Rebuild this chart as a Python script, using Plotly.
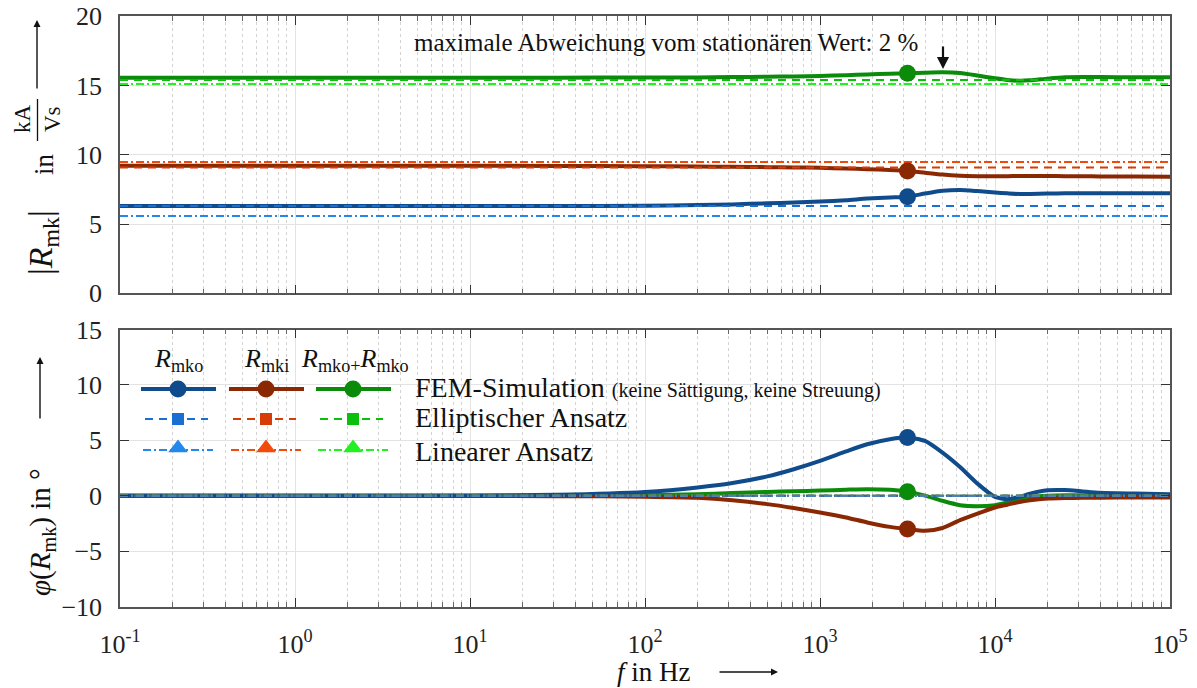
import plotly.graph_objects as go

# ---------------- data ----------------
freq = [0.1, 1, 10, 31.6, 100, 200, 316, 500, 708, 1000, 1410, 1860, 2510, 3162,
        3980, 5010, 6310, 7940, 10000, 11750, 13800, 15850, 19950, 25120, 31620,
        39810, 63100, 100000]

mag_mko = [6.30, 6.30, 6.30, 6.30, 6.32, 6.37, 6.42, 6.50, 6.55, 6.62, 6.72, 6.84, 6.92, 6.97,
           7.20, 7.40, 7.46, 7.38, 7.28, 7.22, 7.17, 7.17, 7.20, 7.22, 7.22, 7.22, 7.22, 7.22]
mag_mki = [9.21, 9.21, 9.21, 9.20, 9.18, 9.15, 9.13, 9.11, 9.09, 9.06, 9.01, 8.96, 8.90, 8.83,
           8.70, 8.57, 8.49, 8.46, 8.45, 8.46, 8.47, 8.47, 8.47, 8.46, 8.45, 8.44, 8.43, 8.42]
mag_sum = [15.57, 15.57, 15.57, 15.57, 15.58, 15.59, 15.61, 15.64, 15.66, 15.69, 15.75, 15.80, 15.85, 15.88,
           15.93, 15.96, 15.90, 15.72, 15.52, 15.40, 15.35, 15.38, 15.50, 15.60, 15.62, 15.61, 15.60, 15.60]

ph_mko = [0, 0, 0.03, 0.10, 0.35, 0.75, 1.15, 1.75, 2.40, 3.15, 4.00, 4.65, 5.10, 5.27,
          4.95, 3.90, 2.60, 1.10, -0.10, -0.30, -0.10, 0.20, 0.50, 0.52, 0.40, 0.28, 0.20, 0.15]
ph_mki = [0, 0, -0.01, -0.03, -0.08, -0.18, -0.40, -0.75, -1.10, -1.50, -1.95, -2.40, -2.80, -3.00,
          -3.15, -2.90, -2.20, -1.60, -1.05, -0.80, -0.55, -0.40, -0.25, -0.20, -0.18, -0.17, -0.15, -0.15]
ph_sum = [0, 0, 0.01, 0.02, 0.06, 0.15, 0.25, 0.35, 0.42, 0.47, 0.55, 0.60, 0.55, 0.36,
          0.02, -0.45, -0.85, -0.95, -0.85, -0.60, -0.35, -0.15, 0.00, 0.05, 0.05, 0.05, 0.05, 0.05]

f_const = [0.1, 100000]
ell_mko = [6.30, 6.30]
ell_mki = [9.08, 9.08]
ell_sum = [15.40, 15.40]
lin_mko = [5.58, 5.58]
lin_mki = [9.48, 9.48]
lin_sum = [15.11, 15.11]
ph_const = [0, 0]

marker_idx = 13  # f = 3162 Hz

x_tickvals = [0.1, 1, 10, 100, 1000, 10000, 100000]
x_ticktext = ["10<sup>-1</sup>", "10<sup>0</sup>", "10<sup>1</sup>", "10<sup>2</sup>",
              "10<sup>3</sup>", "10<sup>4</sup>", "10<sup>5</sup>"]

# ---------------- styles ----------------
FONT = "Liberation Serif, Times New Roman, serif"
C = dict(
    mko=("#104C8C", "#1A70D2", "#2388EC"),
    mki=("#8A2804", "#D83C06", "#F24A0A"),
    sum=("#0A8C0A", "#0AC00A", "#22F022"),
)
W, H = 1197, 688
def px(x): return x / W
def py(y): return 1 - y / H

fig = go.Figure()

def add_group(xa, ya, fem, ell, lin):
    order = ["sum", "mki", "mko"]
    for k in order:
        fig.add_trace(go.Scatter(x=freq, y=fem[k], mode="lines", line=dict(color=C[k][0], width=4, shape="spline", smoothing=0.6),
                                 xaxis=xa, yaxis=ya, showlegend=False, hoverinfo="skip"))
    for k in order:
        fig.add_trace(go.Scatter(x=f_const, y=ell[k], mode="lines", line=dict(color=C[k][1], width=2, dash="8px,6px"),
                                 xaxis=xa, yaxis=ya, showlegend=False, hoverinfo="skip"))
    for k in order:
        fig.add_trace(go.Scatter(x=f_const, y=lin[k], mode="lines", line=dict(color=C[k][2], width=2, dash="8px,3px,2px,3px"),
                                 xaxis=xa, yaxis=ya, showlegend=False, hoverinfo="skip"))
    for k in order:
        fig.add_trace(go.Scatter(x=[freq[marker_idx]], y=[fem[k][marker_idx]], mode="markers",
                                 marker=dict(color=C[k][0], size=17, symbol="circle"),
                                 xaxis=xa, yaxis=ya, showlegend=False, hoverinfo="skip"))

add_group("x", "y",
          dict(mko=mag_mko, mki=mag_mki, sum=mag_sum),
          dict(mko=ell_mko, mki=ell_mki, sum=ell_sum),
          dict(mko=lin_mko, mki=lin_mki, sum=lin_sum))
add_group("x2", "y2",
          dict(mko=ph_mko, mki=ph_mki, sum=ph_sum),
          dict(mko=ph_const, mki=ph_const, sum=ph_const),
          dict(mko=ph_const, mki=ph_const, sum=ph_const))

# ---------------- legend (drawn on overlay pixel axis) ----------------
leg_cols = [178, 266, 353]
leg_rows = [389, 419, 450]
leg_keys = ["mko", "mki", "sum"]
for ci, k in enumerate(leg_keys):
    cx = leg_cols[ci]
    fig.add_trace(go.Scatter(x=[cx - 37, cx + 38], y=[leg_rows[0]] * 2, mode="lines",
                             line=dict(color=C[k][0], width=4), xaxis="x3", yaxis="y3", showlegend=False, hoverinfo="skip"))
    fig.add_trace(go.Scatter(x=[cx], y=[leg_rows[0]], mode="markers", marker=dict(color=C[k][0], size=17),
                             xaxis="x3", yaxis="y3", showlegend=False, hoverinfo="skip"))
    fig.add_trace(go.Scatter(x=[cx - 33, cx + 30], y=[leg_rows[1]] * 2, mode="lines",
                             line=dict(color=C[k][1], width=2, dash="8px,6px"), xaxis="x3", yaxis="y3", showlegend=False, hoverinfo="skip"))
    fig.add_trace(go.Scatter(x=[cx], y=[leg_rows[1]], mode="markers", marker=dict(color=C[k][1], size=12, symbol="square"),
                             xaxis="x3", yaxis="y3", showlegend=False, hoverinfo="skip"))
    fig.add_trace(go.Scatter(x=[cx - 35, cx + 35], y=[leg_rows[2]] * 2, mode="lines",
                             line=dict(color=C[k][2], width=2, dash="8px,3px,2px,3px"), xaxis="x3", yaxis="y3", showlegend=False, hoverinfo="skip"))
    fig.add_trace(go.Scatter(x=[cx], y=[leg_rows[2] - 2], mode="markers", marker=dict(color=C[k][2], size=17, symbol="triangle-up"),
                             xaxis="x3", yaxis="y3", showlegend=False, hoverinfo="skip"))

# ---------------- axes ----------------
minor_vals = [m * 10 ** e for e in range(-1, 5) for m in range(2, 10)]
AX_COL = "#555555"
def xaxis_cfg(domain_y_anchor, labels):
    return dict(type="log", range=[-1, 5], domain=[px(120), px(1170)], anchor=domain_y_anchor,
                tickmode="array", tickvals=x_tickvals, ticktext=x_ticktext, showticklabels=labels,
                ticks="inside", ticklen=9, tickwidth=1.2, tickcolor="#333333",
                showline=True, linecolor=AX_COL, linewidth=1.5, mirror="allticks",
                showgrid=True, gridcolor="#E3E3E3", gridwidth=1.2,
                minor=dict(tickmode="array", tickvals=minor_vals, ticks="inside", ticklen=5, tickcolor="#666666",
                           showgrid=True, gridcolor="#D2D2D2", griddash="dot", gridwidth=1),
                tickfont=dict(family=FONT, size=26, color="#222222"), ticklabelstandoff=13,
                zeroline=False, automargin=False)

def yaxis_cfg(domain, rng, dtick, anchor):
    return dict(range=rng, domain=domain, anchor=anchor, dtick=dtick, tick0=0,
                ticks="inside", ticklen=9, tickwidth=1.2, tickcolor="#333333",
                showline=True, linecolor=AX_COL, linewidth=1.5, mirror="allticks",
                showgrid=True, gridcolor="#E3E3E3", gridwidth=1.2, zeroline=False,
                tickfont=dict(family=FONT, size=26, color="#222222"), ticklabelstandoff=11,
                automargin=False)

fig.update_layout(
    width=W, height=H, margin=dict(l=0, r=0, t=0, b=0),
    paper_bgcolor="white", plot_bgcolor="rgba(0,0,0,0)",
    font=dict(family=FONT, color="#222222"),
    xaxis=xaxis_cfg("y", False),
    yaxis=yaxis_cfg([py(293.3), py(16.3)], [0, 20], 5, "x"),
    xaxis2=xaxis_cfg("y2", True),
    yaxis2=yaxis_cfg([py(606.7), py(329.5)], [-10, 15], 5, "x2"),
    xaxis3=dict(domain=[0, 1], range=[0, W], visible=False, anchor="y3", fixedrange=True),
    yaxis3=dict(domain=[0, 1], range=[H, 0], visible=False, anchor="x3", fixedrange=True),
    showlegend=False,
)

ann = []
def text(x, y, t, size=25, angle=0, xanchor="center"):
    ann.append(dict(x=px(x), y=py(y), xref="paper", yref="paper", text=t, showarrow=False,
                    textangle=angle, xanchor=xanchor, yanchor="middle",
                    font=dict(family=FONT, size=size, color="#111111")))
def arrow(xh, yh, ax, ay, width=1.4, size=1.0):
    ann.append(dict(x=px(xh), y=py(yh), xref="paper", yref="paper", text="", showarrow=True,
                    ax=ax, ay=ay, arrowhead=2, arrowsize=size, arrowwidth=width, arrowcolor="#111111"))

# legend headers and labels
text(leg_cols[0], 360, "<i>R</i><sub>mko</sub>", 26)
text(leg_cols[1], 360, "<i>R</i><sub>mki</sub>", 26)
text(leg_cols[2] + 2, 360, "<i>R</i><sub>mko+</sub><i>R</i><sub>mko</sub>", 26)
text(413, 387, "FEM-Simulation <span style='font-size:20px'>(keine Sättigung, keine Streuung)</span>", 28, xanchor="left")
text(413, 417, "Elliptischer Ansatz", 28, xanchor="left")
text(413, 451, "Linearer Ansatz", 28, xanchor="left")

# annotation top
text(412, 42, "maximale Abweichung vom stationären Wert: 2 %", 25, xanchor="left")
arrow(943, 69, 0, -24, width=2.2, size=1.1)

# y label top
text(43, 243, "|<i>R</i><sub>mk</sub>|", 34, angle=-90)
text(44, 164, "in", 27, angle=-90)
text(23, 119, "kA", 23, angle=-90)
text(53, 119, "Vs", 23, angle=-90)
arrow(37, 20, 0, 70)

# y label bottom
text(42, 532, "<i>φ</i>(<i>R</i><sub>mk</sub>) in °", 29, angle=-90)
arrow(40, 357, 0, 63)

# x label
text(654, 672, "<i>f</i> in Hz", 27)
arrow(778, 672, -60, 0)

fig.update_layout(annotations=ann,
                  shapes=[dict(type="line", xref="paper", yref="paper", x0=px(37.5), x1=px(37.5), y0=py(99), y1=py(141),
                               line=dict(color="#111111", width=1.3))])

fig.write_html("out.html")
